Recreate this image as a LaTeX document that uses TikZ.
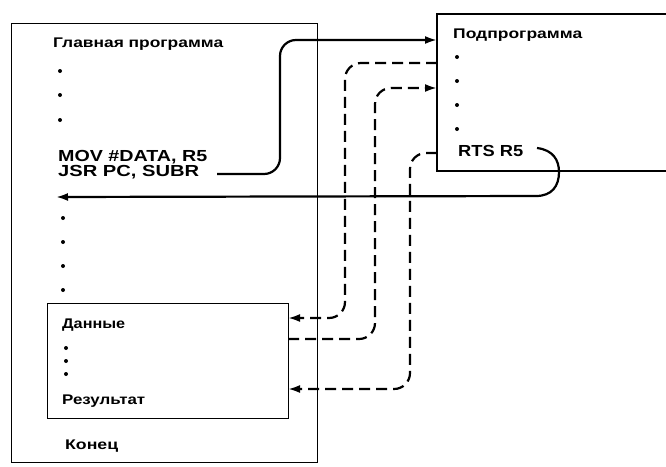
\documentclass[tikz,border=0pt]{standalone}
\usepackage{fontspec}
\newfontfamily\lblfam{Liberation Sans}
\newcommand{\cyrfont}{\lblfam\bfseries\fontsize{14}{17}\selectfont}
\newcommand{\latfont}{\lblfam\bfseries\fontsize{16}{19}\selectfont}
\newcommand{\wtxt}[2]{\resizebox{#1pt}{\height}{#2}}
\usetikzlibrary{arrows.meta}
\begin{document}
\begin{tikzpicture}[x=1pt,y=-1pt,
  lbl/.style={anchor=base west, inner sep=0pt, font=\cyrfont},
  code/.style={anchor=base west, inner sep=0pt, font=\latfont},
  boxline/.style={line width=1.3pt},
  flow/.style={line width=2.2pt, rounded corners=16pt},
  dflow/.style={flow, dash pattern=on 11pt off 6pt},
  tipend/.style={-{Latex[length=12pt,width=8pt]}},
  dotpt/.style={circle, fill, inner sep=0pt, minimum size=4pt}]
\useasboundingbox (0,0) rectangle (666,466);

% boxes
\node[draw, boxline, anchor=north west, minimum width=306pt, minimum height=439pt, inner sep=0pt] (main) at (11,23) {};
\node[draw, boxline, anchor=north west, minimum width=241pt, minimum height=115pt, inner sep=0pt] (data) at (47,303) {};
\coordinate (sA) at (437,14);
\coordinate (sB) at (437,171);
\coordinate (sAr) at (666,14);
\coordinate (sBr) at (666,171);
\draw[boxline] (sAr) -- (sA) -- (sB) -- (sBr);

% texts in main program
\node[lbl] (tmain) at (53,47) {\wtxt{170}{Главная программа}};
\node[dotpt] (m1) at (60,71) {};
\node[dotpt] (m2) at (60,95) {};
\node[dotpt] (m3) at (60,120) {};
\node[code] (tmov) at (58,161) {\wtxt{149}{MOV \#DATA, R5}};
\node[code] (tjsr) at (58,176) {\wtxt{141}{JSR PC, SUBR}};
\node[dotpt] (m4) at (63,218) {};
\node[dotpt] (m5) at (63,242) {};
\node[dotpt] (m6) at (63,266) {};
\node[dotpt] (m7) at (63,290) {};
\node[lbl] (tdata) at (62,328) {\wtxt{63}{Данные}};
\node[dotpt] (dd1) at (66,348) {};
\node[dotpt] (dd2) at (66,361) {};
\node[dotpt] (dd3) at (66,374) {};
\node[lbl] (tres) at (62,404) {\wtxt{83}{Результат}};
\node[lbl] (tend) at (65,449) {\wtxt{53}{Конец}};

% subroutine texts
\node[lbl] (tsub) at (453,38) {\wtxt{129}{Подпрограмма}};
\node[dotpt] (s5) at (457,57) {};
\node[dotpt] (s6) at (457,81) {};
\node[dotpt] (s7) at (457,105) {};
\node[dotpt] (s8) at (457,129) {};
\node[code] (trts) at (458,156) {\wtxt{65}{RTS R5}};

% connector end points
\coordinate (c0) at (217,174);
\coordinate (s1) at (437,40);
\coordinate (s2) at (437,63);
\coordinate (s3) at (437,88);
\coordinate (s4) at (437,153);
\coordinate (d1) at (288,318);
\coordinate (d2) at (288,339);
\coordinate (d3) at (288,389);
\coordinate (r0) at (537,148);
\coordinate (r1) at (56,197);

% call
\draw[flow, tipend] (c0) -- (280,174) -- (280,40) -- (s1);
% return
\draw[line width=2.2pt, tipend] (r0) .. controls (553,150) and (559,160) .. (559,172)
  .. controls (559,186) and (552,196) .. (536,196) -- (r1);
% data accesses
\draw[dflow, tipend] (s2) -- (345,63) -- (345,318) -- (d1);
\draw[dflow, tipend] (d2) -- (375,339) -- (375,88) -- (s3);
\draw[dflow, tipend] (s4) -- (410,153) -- (410,389) -- (d3);
\end{tikzpicture}
\end{document}
